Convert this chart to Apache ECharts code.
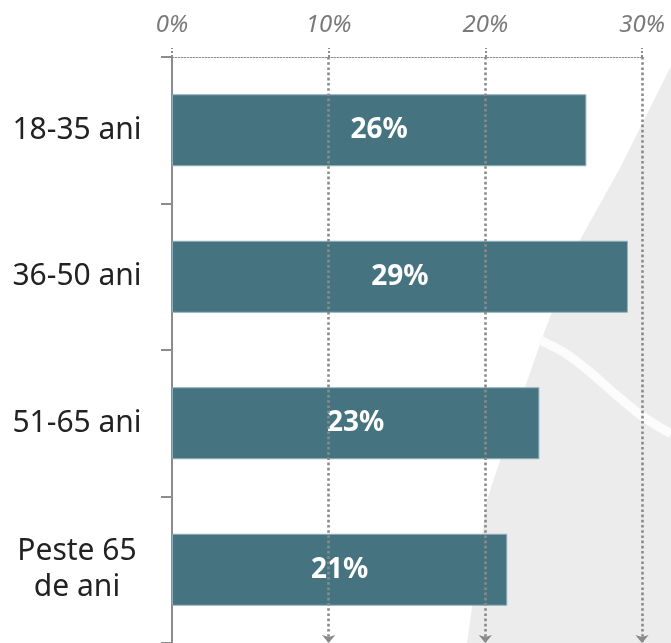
<!DOCTYPE html>
<html>
<head>
<meta charset="utf-8">
<script src="https://cdn.jsdelivr.net/npm/echarts@6/dist/echarts.min.js"></script>
<style>
  html, body { margin: 0; padding: 0; background: #fff; }
  #chart { width: 671px; height: 643px; }
</style>
</head>
<body>
<div id="chart"></div>
<script>
const categories = ['18-35 ani', '36-50 ani', '51-65 ani', 'Peste 65\nde ani'];
const values = [26.45, 29.1, 23.45, 21.4];
const xTicks = [0, 10, 20, 30];
const guideLines = [10, 20, 30];

const chart = echarts.init(document.getElementById('chart'));

const option = {
  animation: false,
  backgroundColor: '#fff',
  grid: { left: 172, right: 29, top: 57, bottom: 0 },
  // decorative map shape in the background
  graphic: [
    {
      type: 'polygon',
      z: -10,
      silent: true,
      shape: {
        points: [[671, 66], [620, 168], [580, 240], [545, 330], [510, 430], [487, 500], [467, 643], [671, 643]]
      },
      style: { fill: '#ececec' }
    },
    {
      type: 'polyline',
      z: -9,
      silent: true,
      shape: {
        points: [[540, 340], [565, 353], [590, 372], [615, 394], [642, 416], [671, 434]],
        smooth: 0.2
      },
      style: { stroke: '#fdfcfd', lineWidth: 9, fill: null }
    }
  ],
  xAxis: {
    type: 'value',
    position: 'top',
    min: 0,
    max: 30,
    interval: 10,
    axisLine: { show: true, lineStyle: { color: '#8c8c8c', type: [1.5, 1.5], width: 1 } },
    axisTick: { show: true, length: 9, lineStyle: { color: '#8c8c8c', type: [2, 2], width: 2 } },
    splitLine: { show: false },
    axisLabel: {
      margin: 20,
      fontFamily: 'Noto Sans',
      fontStyle: 'italic',
      fontSize: 24,
      color: '#7a7a7a',
      formatter: v => xTicks.includes(v) ? v + '%' : ''
    }
  },
  yAxis: {
    type: 'category',
    inverse: true,
    data: categories,
    axisLine: { show: true, lineStyle: { color: '#8c8c8c', width: 2 } },
    axisTick: { show: true, length: 11, lineStyle: { color: '#8c8c8c', width: 2 } },
    axisLabel: {
      margin: 95,
      align: 'center',
      fontFamily: 'Noto Sans',
      fontSize: 30,
      lineHeight: 36,
      color: '#222'
    }
  },
  series: [
    {
      type: 'bar',
      data: values,
      barWidth: 72,
      itemStyle: { color: '#467380', borderColor: '#8fb0ba', borderWidth: 1 },
      label: {
        show: true,
        position: 'inside',
        color: '#fff',
        fontFamily: 'Noto Sans',
        fontWeight: 'bold',
        fontSize: 28,
        formatter: p => Math.round(p.value) + '%'
      },
      markLine: {
        silent: true,
        symbol: ['none', 'arrow'],
        symbolSize: [10, 8],
        label: { show: false },
        lineStyle: { color: '#8a8a8a', type: [2.6, 2.6], width: 2.6 },
        data: guideLines.map(v => ({ xAxis: v }))
      }
    }
  ]
};

chart.setOption(option);
</script>
</body>
</html>
